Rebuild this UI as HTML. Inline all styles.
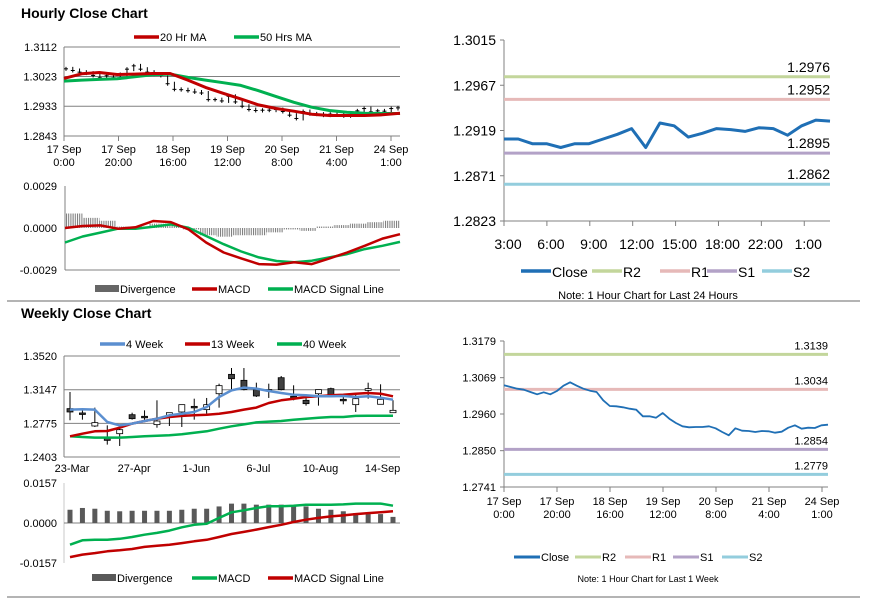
<!DOCTYPE html>
<html><head><meta charset="utf-8">
<style>
html,body{margin:0;padding:0;background:#fff;}
svg{display:block;font-family:"Liberation Sans",Arial,sans-serif;}
</style></head>
<body>
<svg id="c" width="873" height="601" viewBox="0 0 873 601" xmlns="http://www.w3.org/2000/svg">
<defs>
<pattern id="stripe" width="2.2" height="4" patternUnits="userSpaceOnUse">
<rect x="0" y="0" width="1" height="4" fill="#777"/>
</pattern>
</defs>
</svg>
<script>
// ---------- DATA ----------
const weekHourCloses=[1.3046,1.3041,1.3036,1.3033,1.3026,1.3019,1.3025,1.3019,1.3029,1.3045,1.3055,1.3045,1.3036,1.3030,1.3026,1.3001,1.2984,1.2983,1.2980,1.2976,1.2973,1.2953,1.2953,1.2949,1.2963,1.2946,1.2933,1.2923,1.2920,1.2921,1.2921,1.2923,1.2917,1.2906,1.2896,1.2917,1.2910,1.2909,1.2906,1.2909,1.2908,1.2904,1.2907,1.2919,1.2926,1.2916,1.2919,1.2918,1.2926,1.2928];
const ma20=[1.3017,1.3031,1.3035,1.3029,1.3030,1.3032,1.3032,1.3012,1.2990,1.2972,1.2955,1.2937,1.2926,1.2918,1.2909,1.2905,1.2905,1.2905,1.2907,1.2912];
const ma50=[1.3009,1.3012,1.3014,1.3016,1.3022,1.3028,1.3030,1.3020,1.3012,1.3004,1.2996,1.2980,1.2962,1.2945,1.2930,1.2920,1.2915,1.2912,1.2911,1.2911];
const hourTicks=["17 Sep|0:00","17 Sep|20:00","18 Sep|16:00","19 Sep|12:00","20 Sep|8:00","21 Sep|4:00","24 Sep|1:00"];
const hMacd=[0,0.00014,0.00018,-0.00005,0.00005,0.00048,0.00041,-0.00009,-0.00100,-0.00169,-0.00210,-0.00249,-0.00253,-0.00237,-0.00249,-0.00210,-0.00169,-0.00123,-0.00073,-0.00043];
const hSignal=[-0.00100,-0.00059,-0.00032,-0.00005,-0.00005,0.00009,0.00025,0.00002,-0.00055,-0.00112,-0.00162,-0.00203,-0.00228,-0.00237,-0.00226,-0.00203,-0.00180,-0.00146,-0.00123,-0.00096];
const hDiv=[0.0010,0.0007,0.0005,0.0001,0.0001,0.0003,0.0002,-0.0001,-0.0005,-0.0006,-0.0005,-0.0005,-0.0003,-0.0001,-0.0002,0.0001,0.0002,0.0003,0.0004,0.0005];
const dayCloses=[1.2910,1.2910,1.2905,1.2905,1.2901,1.2905,1.2905,1.2910,1.2915,1.2921,1.2901,1.2927,1.2924,1.2912,1.2916,1.2921,1.2920,1.2918,1.2922,1.2921,1.2914,1.2924,1.2930,1.2929];
const dayTicks=["3:00","6:00","9:00","12:00","15:00","18:00","22:00","1:00"];
const dayLevels=[1.2976,1.2952,1.2895,1.2862];
const weekLevels=[1.3139,1.3034,1.2854,1.2779];
const wOpen=[1.2938,1.2890,1.2746,1.2613,1.2661,1.2871,1.2853,1.2761,1.2857,1.2901,1.2963,1.2927,1.3103,1.3317,1.3251,1.3148,1.3148,1.3280,1.3074,1.3030,1.3103,1.3159,1.3041,1.2982,1.3140,1.2986,1.2893];
const wHigh=[1.3122,1.2919,1.2949,1.2753,1.2753,1.2893,1.2919,1.3030,1.2890,1.2982,1.3048,1.3056,1.3214,1.3387,1.3387,1.3225,1.3214,1.3299,1.3196,1.3074,1.3148,1.3170,1.3092,1.3092,1.3225,1.3207,1.3030];
const wLow=[1.2809,1.2816,1.2735,1.2540,1.2525,1.2816,1.2809,1.2727,1.2746,1.2735,1.2816,1.2882,1.2949,1.3148,1.3140,1.3067,1.3056,1.3140,1.3030,1.2971,1.2971,1.3085,1.2986,1.2901,1.3048,1.2986,1.2893];
const wClose=[1.2901,1.2879,1.2783,1.2587,1.2705,1.2827,1.2838,1.2801,1.2893,1.2982,1.2949,1.2982,1.3192,1.3269,1.3148,1.3078,1.3140,1.3148,1.3059,1.2993,1.3148,1.3092,1.3030,1.3048,1.3159,1.3041,1.2919];
const w4=[1.2927,1.2930,1.2927,1.2790,1.2753,1.2772,1.2801,1.2827,1.2864,1.2882,1.2901,1.2956,1.3067,1.3140,1.3170,1.3159,1.3133,1.3111,1.3092,1.3085,1.3074,1.3074,1.3078,1.3067,1.3074,1.3059,1.3037];
const w13=[1.2632,1.2661,1.2687,1.2691,1.2727,1.2772,1.2801,1.2827,1.2845,1.2857,1.2864,1.2871,1.2882,1.2901,1.2927,1.2949,1.3000,1.3030,1.3048,1.3067,1.3074,1.3085,1.3092,1.3103,1.3111,1.3103,1.3074];
const w40=[1.2632,1.2624,1.2617,1.2617,1.2617,1.2624,1.2632,1.2639,1.2643,1.2654,1.2672,1.2687,1.2716,1.2742,1.2764,1.2786,1.2794,1.2801,1.2816,1.2827,1.2838,1.2845,1.2845,1.2857,1.2860,1.2860,1.2860];
const weekTicks=["23-Mar","27-Apr","1-Jun","6-Jul","10-Aug","14-Sep"];
const weekTickIdx=[0,5,10,15,20,25];
const wDiv=[0.0052,0.0059,0.0056,0.0048,0.0046,0.0048,0.0048,0.0048,0.0048,0.0052,0.0056,0.0056,0.0065,0.0076,0.0076,0.0072,0.0072,0.0072,0.0069,0.0065,0.0056,0.0052,0.0046,0.0039,0.0035,0.0035,0.0024];
const wMacd=[-0.0085,-0.0068,-0.0066,-0.0066,-0.0062,-0.0055,-0.0046,-0.0039,-0.0030,-0.0017,-0.0007,-0.0003,0.0020,0.0042,0.0050,0.0059,0.0066,0.0066,0.0068,0.0072,0.0072,0.0072,0.0073,0.0076,0.0076,0.0076,0.0068];
const wSignal=[-0.0134,-0.0124,-0.0118,-0.0111,-0.0107,-0.0102,-0.0094,-0.0089,-0.0085,-0.0079,-0.0072,-0.0066,-0.0055,-0.0043,-0.0035,-0.0026,-0.0016,-0.0007,0.0004,0.0013,0.0020,0.0026,0.0030,0.0035,0.0039,0.0042,0.0046];

// ---------- HELPERS ----------
const svg=document.getElementById('c');
const NS='http://www.w3.org/2000/svg';
function mk(tag,attrs,parent){const e=document.createElementNS(NS,tag);for(const k in attrs)e.setAttribute(k,attrs[k]);(parent||svg).appendChild(e);return e;}
function ln(x1,y1,x2,y2,c,w,p){return mk('line',{x1,y1,x2,y2,stroke:c,'stroke-width':w},p);}
function tx(x,y,s,size,anchor,p,weight){const t=mk('text',{x,y,'font-size':size,'text-anchor':anchor||'start',fill:'#000','font-weight':weight||'normal'},p);t.textContent=s;return t;}
function lin(d0,d1,r0,r1){return v=>r0+(v-d0)*(r1-r0)/(d1-d0);}
function poly(vals,xf,yf,c,w,p){const pts=vals.map((v,i)=>xf(i).toFixed(1)+','+yf(v).toFixed(1)).join(' ');return mk('polyline',{points:pts,fill:'none',stroke:c,'stroke-width':w,'stroke-linejoin':'round'},p);}
function grp(name){const g=mk('g',{});return g;}
function legLine(g,x,y,c,label,len){ln(x,y,x+len,y,c,3.5,g);tx(x+len+1,y+4,label,11,'start',g);}

const RED='#c00000',GREEN='#00b050',GRID='#808080',BLUE='#1f6fb5';

let sep=grp('section-separator-top');ln(7,301,860,301,'#888',1.3,sep);
let sep2=grp('section-separator-bottom');ln(7,597,860,597,'#888',1.3,sep2);

// ---------- HOURLY CLOSE CHART ----------
let g=grp('hourly-close-chart');
tx(21,18,'Hourly Close Chart',14,'start',g,'bold');
let lg=grp('hourly-legend');
legLine(lg,134,37,RED,'20 Hr MA',25);legLine(lg,234,37,GREEN,'50 Hrs MA',25);
{
 const x0=64,x1=400,y=lin(1.2843,1.3112,136,47);
 [1.3112,1.3023,1.2933,1.2843].forEach(v=>{ln(x0,y(v),x1,y(v),GRID,1,g);tx(57,y(v)+4,v.toFixed(4),11,'end',g);});
 ln(x0,47,x0,136,GRID,1,g);
 const tickX=lin(0,6,64,391);
 hourTicks.forEach((s,i)=>{const X=tickX(i);ln(X,136,X,141,GRID,1,g);const p=s.split('|');tx(X,153,p[0],11,'middle',g);tx(X,166,p[1],11,'middle',g);});
 const xf=lin(0,weekHourCloses.length-1,x0+2,x1-2);
 const cg=grp('hourly-close-bars');g.appendChild(cg);
 weekHourCloses.forEach((v,i)=>{const X=xf(i);const prev=i?weekHourCloses[i-1]:v;
  const hi=Math.max(v,prev)+0.0006,lo=Math.min(v,prev)-0.0006;ln(X,y(hi),X,y(lo),'#000',1,cg);ln(X-2,y(v),X+2,y(v),'#000',1,cg);});
 poly(ma50,lin(0,ma50.length-1,x0,x1),y,GREEN,3,g);
 poly(ma20,lin(0,ma20.length-1,x0,x1),y,RED,3,g);
 const mg=grp('hourly-macd-chart');
 const ym=lin(-0.0029,0.0029,270,186);
 ln(65,186,65,270,GRID,1,mg);ln(65,270,400,270,GRID,1,mg);
 [[0.0029,'0.0029'],[0,'0.0000'],[-0.0029,'-0.0029']].forEach(a=>tx(57,ym(a[0])+4,a[1],11,'end',mg));
 const bw=(400-66)/hDiv.length;
 hDiv.forEach((v,i)=>{const r=mk('rect',{x:66+i*bw,y:Math.min(ym(v),ym(0)),width:bw,height:Math.abs(ym(v)-ym(0)),fill:'url(#stripe)'},mg);});
 poly(hSignal,lin(0,hSignal.length-1,65,400),ym,GREEN,2.5,mg);
 poly(hMacd,lin(0,hMacd.length-1,65,400),ym,RED,2.5,mg);
 const ml=grp('hourly-macd-legend');
 mk('rect',{x:95,y:285,width:24,height:7,fill:'#666'},ml);tx(120,293,'Divergence',11,'start',ml);
 legLine(ml,192,289,RED,'MACD',25);legLine(ml,268,289,GREEN,'MACD Signal Line',25);
}

// ---------- 24H LEVELS CHART ----------
{
 const g2=grp('daily-levels-chart');
 const x0=504,x1=830,y=lin(1.2823,1.3015,221,40);
 ln(x0,40,x0,221,GRID,1,g2);ln(x0,221,x1,221,GRID,1,g2);
 [1.3015,1.2967,1.2919,1.2871,1.2823].forEach(v=>{ln(x0-4,y(v),x0,y(v),GRID,1,g2);tx(496,y(v)+5,v.toFixed(4),14,'end',g2);});
 const cols=['#c3d69b','#e6b9b8','#b3a2c7','#93cddd'];const nm=['r2','r1','s1','s2'];
 dayLevels.forEach((v,i)=>{ln(x0,y(v),x1,y(v),cols[i],3,g2);tx(x1,y(v)-5,v.toFixed(4),14,'end',g2);});
 const xf=lin(0,dayCloses.length-1,x0,x1);
 dayTicks.forEach((s,i)=>{const X=x0+i*(x1-x0)/7.6;ln(X,221,X,226,GRID,1,g2);tx(X+4,249,s,14,'middle',g2);});
 poly(dayCloses,xf,y,BLUE,3,g2);
 const l=grp('daily-legend');
 const items=[[521,BLUE,'Close'],[592,'#c3d69b','R2'],[660,'#e6b9b8','R1'],[707,'#b3a2c7','S1'],[762,'#93cddd','S2']];
 items.forEach(a=>{ln(a[0],271,a[0]+30,271,a[1],3.5,l);tx(a[0]+31,277,a[2],14,'start',l);});
 tx(648,299,'Note: 1 Hour Chart for Last 24 Hours',11,'middle',l);
}

// ---------- WEEKLY CLOSE CHART ----------
{
 const g3=grp('weekly-close-chart');
 tx(21,318,'Weekly Close Chart',14,'start',g3,'bold');
 const lw=grp('weekly-legend');
 legLine(lw,100,344,'#5b8fd0','4 Week',25);legLine(lw,185,344,RED,'13 Week',25);legLine(lw,277,344,GREEN,'40 Week',25);
 const x0=64,x1=400,y=lin(1.2403,1.3520,457,356);
 [1.3520,1.3147,1.2775,1.2403].forEach(v=>{ln(x0,y(v),x1,y(v),GRID,1,g3);tx(57,y(v)+4,v.toFixed(4),11,'end',g3);});
 ln(x0,356,x0,457,GRID,1,g3);
 const xf=lin(0,26,70,393);
 weekTicks.forEach((s,i)=>tx(xf(weekTickIdx[i])+2,472,s,11,'middle',g3));
 const cg=grp('weekly-candles');g3.appendChild(cg);
 wOpen.forEach((o,i)=>{const X=xf(i),c=wClose[i];ln(X,y(wHigh[i]),X,y(wLow[i]),'#000',1,cg);
  const top=y(Math.max(o,c)),h=Math.max(1.5,Math.abs(y(o)-y(c)));
  const r=mk('rect',{x:X-3,y:top,width:6,height:h,fill:c>=o?'#fff':'#404040',stroke:'#000','stroke-width':0.8},cg);});
 poly(w40,xf,y,GREEN,2.5,g3);
 poly(w13,xf,y,RED,2.5,g3);
 poly(w4,xf,y,'#5b8fd0',2.5,g3);
 const mg=grp('weekly-macd-chart');
 const ym=lin(-0.0157,0.0157,563,483);
 ln(x0,483,x0,563,'#bbb',0.8,mg);ln(x0,ym(0),x1,ym(0),GRID,1,mg);
 [[0.0157,'0.0157'],[0,'0.0000'],[-0.0157,'-0.0157']].forEach(a=>tx(57,ym(a[0])+4,a[1],11,'end',mg));
 wDiv.forEach((v,i)=>{const r=mk('rect',{x:xf(i)-2.5,y:Math.min(ym(v),ym(0)),width:5,height:Math.abs(ym(v)-ym(0)),fill:'#595959'},mg);});
 poly(wSignal,xf,ym,RED,2.5,mg);
 poly(wMacd,xf,ym,GREEN,2.5,mg);
 const ml=grp('weekly-macd-legend');
 mk('rect',{x:92,y:574,width:24,height:7,fill:'#595959'},ml);tx(117,582,'Divergence',11,'start',ml);
 legLine(ml,192,578,GREEN,'MACD',25);legLine(ml,268,578,RED,'MACD Signal Line',25);
}

// ---------- WEEK LEVELS CHART ----------
{
 const g4=grp('weekly-levels-chart');
 const x0=504,x1=828,y=lin(1.2741,1.3179,487,341);
 ln(x0,341,x0,487,GRID,1,g4);ln(x0,487,x1,487,GRID,1,g4);
 [1.3179,1.3069,1.2960,1.2850,1.2741].forEach(v=>{ln(x0-4,y(v),x0,y(v),GRID,1,g4);tx(496,y(v)+4,v.toFixed(4),11,'end',g4);});
 const cols=['#c3d69b','#e6b9b8','#b3a2c7','#93cddd'];const nm=['r2','r1','s1','s2'];
 weekLevels.forEach((v,i)=>{ln(x0,y(v),x1,y(v),cols[i],3,g4);tx(x1,y(v)-5,v.toFixed(4),11,'end',g4);});
 const tickX=lin(0,6,504,822);
 hourTicks.forEach((s,i)=>{const X=tickX(i);ln(X,487,X,492,GRID,1,g4);const p=s.split('|');tx(X,505,p[0],11,'middle',g4);tx(X,518,p[1],11,'middle',g4);});
 poly(weekHourCloses,lin(0,weekHourCloses.length-1,x0,x1),y,BLUE,1.8,g4);
 const l=grp('weekly-levels-legend');
 const items=[[514,BLUE,'Close'],[575,'#c3d69b','R2'],[625,'#e6b9b8','R1'],[673,'#b3a2c7','S1'],[722,'#93cddd','S2']];
 items.forEach(a=>{ln(a[0],557,a[0]+26,557,a[1],3,l);tx(a[0]+27,561,a[2],11,'start',l);});
 tx(648,582,'Note: 1 Hour Chart for  Last 1 Week',9,'middle',l);
}
</script>
</body></html>
